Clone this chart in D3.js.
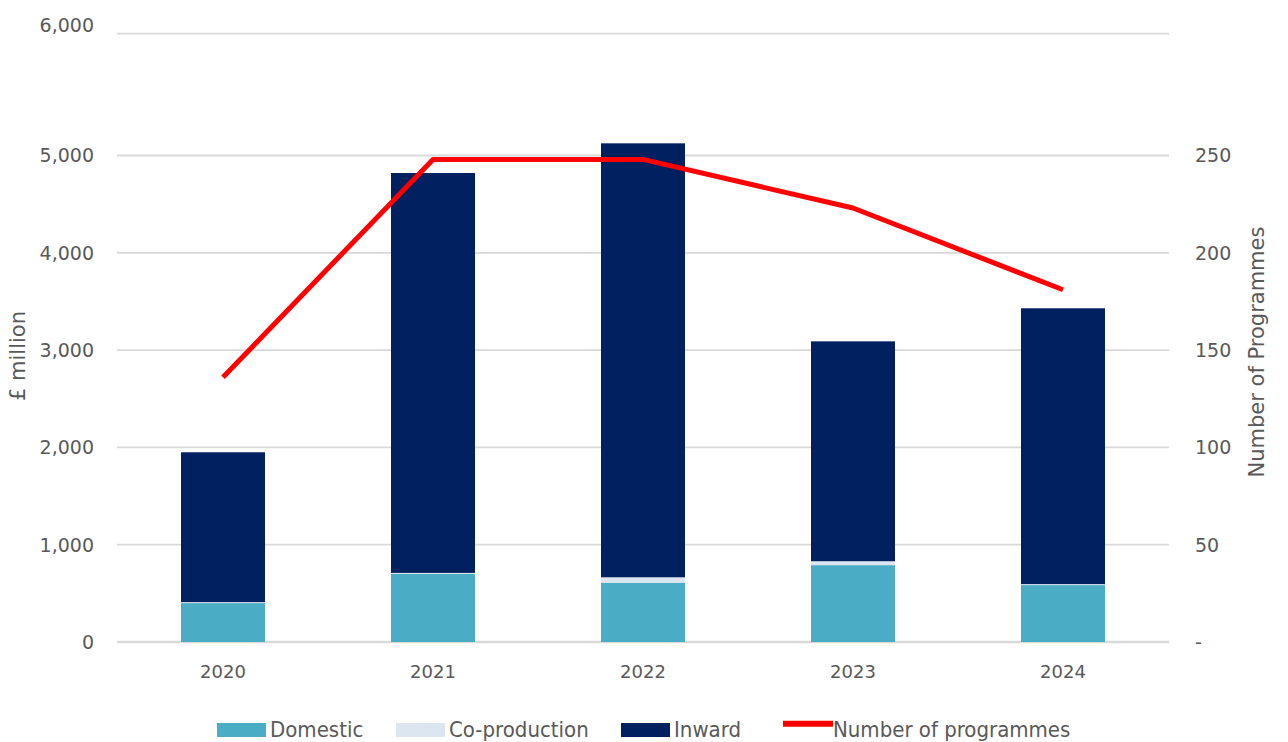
<!DOCTYPE html>
<html>
<head>
<meta charset="utf-8">
<script src="https://cdn.jsdelivr.net/npm/d3@7"></script>
<style>
  body { margin: 0; background: #fff; }
  svg text { fill: #595959; font-family: "DejaVu Sans", sans-serif; }
</style>
</head>
<body>
<svg id="chart" width="1288" height="742"></svg>
<script>
// data
var years = ["2020", "2021", "2022", "2023", "2024"];
var domestic = [400, 700, 610, 790, 585];
var coproduction = [10, 10, 55, 40, 10];
var inward = [1540, 4110, 4435, 2260, 2835];
var programmes = [136, 248, 248, 223, 181];

var leftTicks = [0, 1000, 2000, 3000, 4000, 5000, 6000];
var rightTicks = [0, 50, 100, 150, 200, 250];

var seriesNames = ["Domestic", "Co-production", "Inward"];
var seriesColors = ["#4BACC6", "#DCE6F0", "#002060"];
var lineName = "Number of programmes";
var lineColor = "#FF0000";

var svg = d3.select("#chart");
var left = 118, right = 1168;

// the top band of the original is squeezed, so the scales are piecewise
var x = d3.scaleBand().domain(years).range([left, right]).paddingInner(0.6).paddingOuter(0.3);
var y = d3.scaleLinear().domain([0, 5000, 6000]).range([642, 155.5, 33.7]);
var y2 = d3.scaleLinear().domain([0, 250, 300]).range([642, 155.5, 33.7]);

// gridlines
svg.append("g").selectAll("line").data(leftTicks).enter().append("line")
  .attr("x1", 117).attr("x2", 1169)
  .attr("y1", function(d){ return y(d); })
  .attr("y2", function(d){ return y(d); })
  .attr("stroke", "#D9D9D9")
  .attr("stroke-width", function(d){ return d == 0 ? 2.5 : 1.8; });

// left axis labels (top one sits a little above its line in the original)
svg.append("g").selectAll("text").data(leftTicks).enter().append("text")
  .attr("x", 94).attr("y", function(d){ return d == 6000 ? y(d) - 9 : y(d); })
  .attr("dy", "0.36em")
  .attr("text-anchor", "end")
  .style("font-size", "19px")
  .text(function(d){ return d3.format(",")(d); });

// right axis labels
svg.append("g").selectAll("text").data(rightTicks).enter().append("text")
  .attr("x", 1195).attr("y", function(d){ return y2(d); })
  .attr("dy", "0.36em")
  .style("font-size", "19px")
  .text(function(d){ return d == 0 ? "-" : d; });

// x axis labels
svg.append("g").selectAll("text").data(years).enter().append("text")
  .attr("x", function(d){ return x(d) + x.bandwidth() / 2; })
  .attr("y", 678)
  .attr("text-anchor", "middle")
  .style("font-size", "18px")
  .text(function(d){ return d; });

// axis titles
svg.append("text")
  .attr("transform", "translate(25,356) rotate(-90)")
  .attr("text-anchor", "middle")
  .style("font-size", "21px")
  .text("£ million");
svg.append("text")
  .attr("transform", "translate(1264,352) rotate(-90)")
  .attr("text-anchor", "middle")
  .style("font-size", "21px")
  .text("Number of Programmes");

// stacked bars
var rows = years.map(function(yr, i){
  return { year: yr, Domestic: domestic[i], "Co-production": coproduction[i], Inward: inward[i] };
});
var stacked = d3.stack().keys(seriesNames)(rows);

svg.append("g").selectAll("g").data(stacked).enter().append("g")
  .attr("fill", function(d, i){ return seriesColors[i]; })
  .selectAll("rect").data(function(d){ return d; }).enter().append("rect")
    .attr("x", function(d){ return x(d.data.year); })
    .attr("width", x.bandwidth())
    .attr("y", function(d){ return y(d[1]); })
    .attr("height", function(d){ return y(d[0]) - y(d[1]); });

// programmes line
var line = d3.line()
  .x(function(d, i){ return x(years[i]) + x.bandwidth() / 2; })
  .y(function(d){ return y2(d); });
svg.append("path").datum(programmes)
  .attr("d", line)
  .attr("fill", "none")
  .attr("stroke", lineColor)
  .attr("stroke-width", 5)
  .attr("stroke-linejoin", "round");

// legend
var legendX = [217, 396, 621, 783];
var legend = svg.append("g");
seriesNames.forEach(function(name, i){
  legend.append("rect")
    .attr("x", legendX[i]).attr("y", 723)
    .attr("width", 49).attr("height", 14)
    .attr("fill", seriesColors[i]);
  legend.append("text")
    .attr("x", legendX[i] + 53).attr("y", 737)
    .style("font-family", "'DejaVu Sans Condensed', 'DejaVu Sans', sans-serif")
    .style("font-size", "22px")
    .text(name);
});
legend.append("line")
  .attr("x1", legendX[3]).attr("x2", legendX[3] + 50)
  .attr("y1", 723.7).attr("y2", 723.7)
  .attr("stroke", lineColor).attr("stroke-width", 6);
legend.append("text")
  .attr("x", legendX[3] + 50).attr("y", 737)
  .style("font-family", "'DejaVu Sans Condensed', 'DejaVu Sans', sans-serif")
  .style("font-size", "22px")
  .text(lineName);
</script>
</body>
</html>
